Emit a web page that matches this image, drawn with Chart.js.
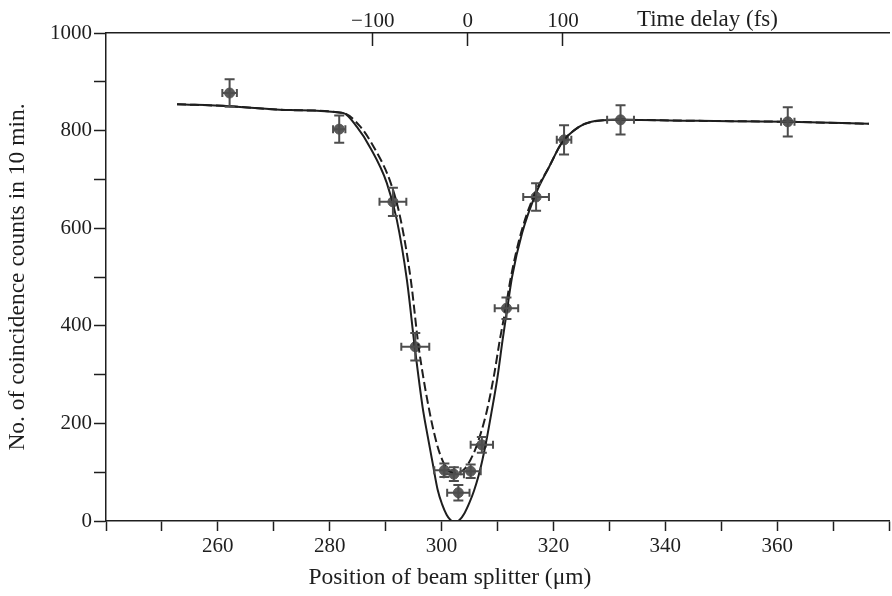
<!DOCTYPE html>
<html>
<head>
<meta charset="utf-8">
<script src="https://cdn.jsdelivr.net/npm/chart.js@4"></script>
<style>
html, body { margin: 0; padding: 0; background: #fff; overflow: hidden; }
#wrap { width: 892px; height: 596px; }
</style>
</head>
<body>
<div id="wrap"><canvas id="hom"></canvas></div>
<script>
// measured points (beam splitter position in um, coincidences per 10 min)
const positions = [262.1, 281.7, 291.3, 295.3, 300.5, 302.2, 303.0, 305.2, 307.2, 311.6, 316.9, 321.9, 332.0, 361.9];
const counts = [877, 803, 654, 357, 104, 96, 58, 102, 156, 436, 664, 781, 822, 818];
const countErr = [28, 28, 29, 28, 14, 14, 16, 14, 16, 22, 28, 30, 30, 30];
const posErr = [1.3, 1.1, 2.4, 2.5, 1.8, 1.8, 2.0, 1.8, 2.0, 2.1, 2.3, 1.3, 2.4, 1.2];

// solid fitted curve
const solidX = [252.7, 262.1, 273.0, 282.4, 284.9, 287.2, 290.2, 292.0, 293.8, 295.2, 296.6, 297.5, 298.4, 299.3, 300.1, 300.9, 301.6, 302.4, 303.2, 304.1, 305.0, 305.8, 306.6, 307.3, 308.1, 308.9, 310.0, 310.9, 311.7, 312.6, 314.4, 316.9, 319.2, 321.5, 324.5, 326.8, 331.6, 345.9, 361.9, 376.4];
const solidY = [854, 850, 842, 836, 807, 766, 693, 617, 494, 357, 234, 175, 119, 64, 34, 13, 2, -3, 2, 16, 38, 62, 92, 125, 170, 221, 295, 370, 432, 500, 590, 672, 725, 775, 807, 818, 822, 820, 818, 814];

// dashed curve
const dashX = [252.7, 262.1, 273.0, 282.4, 285.4, 287.9, 290.9, 292.7, 294.5, 295.9, 297.9, 299.3, 300.1, 300.9, 301.7, 302.5, 303.3, 304.2, 305.2, 306.2, 308.0, 309.4, 310.4, 311.4, 312.4, 314.2, 316.7, 319.2, 321.5, 324.5, 326.8, 331.6, 345.9, 361.9, 376.4];
const dashY = [854, 850, 842, 836, 809, 766, 693, 617, 494, 357, 221, 152, 126, 108, 100, 98, 100, 108, 126, 152, 221, 300, 370, 432, 500, 590, 672, 725, 775, 807, 818, 822, 820, 818, 814];

// top axis: time delay
const delayTicks = [-100, 0, 100];
const delayLabels = ['\u2212100', '0', '100'];
const delayTitle = 'Time delay (fs)';
const delayTitleAt = 252;
const zeroDelayPos = 304.7;   // um at 0 fs
const umPer100fs = 17.0;

const xMin = 240, xMax = 380;
const xTitle = 'Position of beam splitter (\u03bcm)';
const yTitle = 'No. of coincidence counts in 10 min.';

const serif = '"Liberation Serif", "DejaVu Serif", serif';
const ink = '#1e1e1e';

function pts(xs, ys) {
    return xs.map((x, i) => ({ x: x, y: ys[i] }));
}

const errorBars = {
    id: 'errorBars',
    afterDatasetsDraw(chart) {
        const xs = chart.scales.x, ys = chart.scales.y, c = chart.ctx;
        c.save();
        c.strokeStyle = '#4d4d4d';
        c.lineWidth = 2;
        positions.forEach((p, i) => {
            const px = xs.getPixelForValue(p);
            const py = ys.getPixelForValue(counts[i]);
            const y1 = ys.getPixelForValue(counts[i] + countErr[i]);
            const y2 = ys.getPixelForValue(counts[i] - countErr[i]);
            const x1 = xs.getPixelForValue(p - posErr[i]);
            const x2 = xs.getPixelForValue(p + posErr[i]);
            c.beginPath();
            c.moveTo(px, y1); c.lineTo(px, y2);
            c.moveTo(px - 5, y1); c.lineTo(px + 5, y1);
            c.moveTo(px - 5, y2); c.lineTo(px + 5, y2);
            c.moveTo(x1, py); c.lineTo(x2, py);
            c.moveTo(x1, py - 4); c.lineTo(x1, py + 4);
            c.moveTo(x2, py - 4); c.lineTo(x2, py + 4);
            c.stroke();
        });
        c.restore();
    }
};

// x title sits off-centre in the original, so place it from the scale
const bottomTitle = {
    id: 'bottomTitle',
    afterDraw(chart) {
        const c = chart.ctx;
        c.save();
        c.font = '23.5px ' + serif;
        c.fillStyle = ink;
        c.textAlign = 'center';
        c.textBaseline = 'middle';
        c.fillText(xTitle, chart.scales.x.getPixelForValue(301.5), chart.chartArea.bottom + 57);
        c.restore();
    }
};

new Chart(document.getElementById('hom'), {
    type: 'scatter',
    data: {
        datasets: [{
            label: 'fit',
            data: pts(solidX, solidY),
            showLine: true,
            borderColor: ink,
            borderWidth: 2,
            pointRadius: 0,
            cubicInterpolationMode: 'monotone'
        }, {
            label: 'fit (dashed)',
            data: pts(dashX, dashY),
            showLine: true,
            borderColor: ink,
            borderWidth: 2,
            borderDash: [9, 4],
            pointRadius: 0,
            cubicInterpolationMode: 'monotone'
        }, {
            label: 'data',
            data: pts(positions, counts),
            pointRadius: 5,
            pointStyle: 'circle',
            backgroundColor: '#5a5a5a',
            borderColor: '#5a5a5a'
        }]
    },
    options: {
        responsive: true,
        maintainAspectRatio: false,
        animation: false,
        layout: { padding: 0, autoPadding: false },
        plugins: {
            legend: { display: false },
            tooltip: { enabled: false }
        },
        scales: {
            x: {
                type: 'linear',
                position: 'bottom',
                min: xMin,
                max: xMax,
                afterFit: s => { s.height = 75; },
                border: { color: ink, width: 1.5 },
                grid: { drawOnChartArea: false, tickLength: 10, tickColor: ink, tickWidth: 1.5 },
                ticks: {
                    stepSize: 10,
                    autoSkip: false,
                    maxRotation: 0,
                    padding: 3,
                    color: ink,
                    font: { family: serif, size: 21 },
                    callback: v => (v % 20 === 0 && v >= 260 && v <= 360) ? String(v) : ''
                }
            },
            x2: {
                type: 'linear',
                position: 'top',
                min: (xMin - zeroDelayPos) * 100 / umPer100fs,
                max: (xMax - zeroDelayPos) * 100 / umPer100fs,
                afterFit: s => { s.height = 33; },
                afterBuildTicks: s => {
                    s.ticks = delayTicks.concat([delayTitleAt]).map(v => ({ value: v }));
                },
                border: { color: ink, width: 1.5 },
                grid: {
                    drawOnChartArea: false,
                    tickLength: -13,
                    tickWidth: 1.5,
                    tickColor: ctx => (ctx.tick && ctx.tick.value === delayTitleAt) ? 'rgba(0,0,0,0)' : ink
                },
                ticks: {
                    autoSkip: false,
                    maxRotation: 0,
                    padding: 12,
                    color: ink,
                    font: ctx => ({ family: serif, size: (ctx.tick && ctx.tick.value === delayTitleAt) ? 23 : 21 }),
                    callback: v => {
                        if (v === delayTitleAt) return delayTitle;
                        const i = delayTicks.indexOf(v);
                        return i >= 0 ? delayLabels[i] : '';
                    }
                }
            },
            y: {
                min: 0,
                max: 1000,
                afterFit: s => { s.width = 106; },
                border: { color: ink, width: 1.5 },
                grid: { drawOnChartArea: false, tickLength: 12, tickColor: ink, tickWidth: 1.5 },
                ticks: {
                    stepSize: 100,
                    autoSkip: false,
                    padding: 2,
                    color: ink,
                    font: { family: serif, size: 21 },
                    callback: v => v % 200 === 0 ? String(v) : ''
                },
                title: {
                    display: true,
                    text: yTitle,
                    color: ink,
                    padding: { top: 4, bottom: 0 },
                    font: { family: serif, size: 23.5 }
                }
            }
        }
    },
    plugins: [errorBars, bottomTitle]
});
</script>
</body>
</html>
